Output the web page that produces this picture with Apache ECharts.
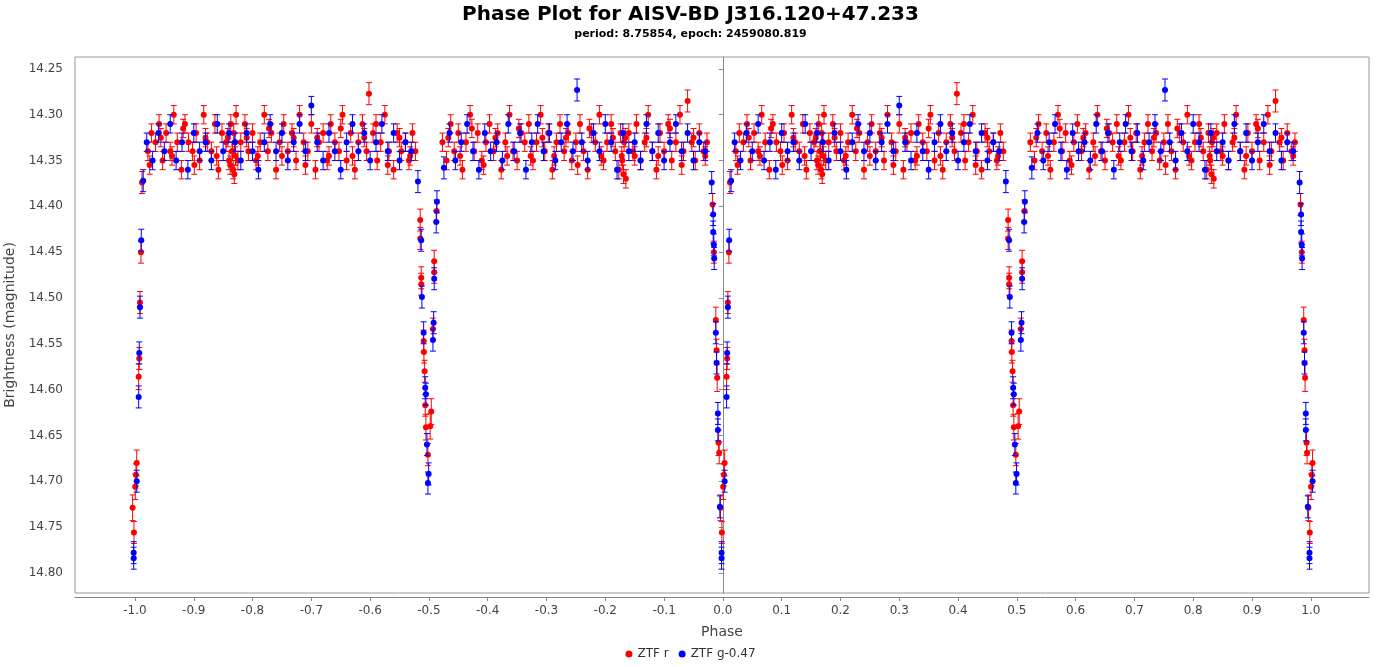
<!DOCTYPE html>
<html>
<head>
<meta charset="utf-8">
<script src="https://cdn.jsdelivr.net/npm/echarts@6/dist/echarts.min.js"></script>
<style>html,body{margin:0;padding:0;background:#fff}#main{width:1381px;height:667px}</style>
</head>
<body>
<div id="main"></div>
<script>
// phase, magnitude, error  (one cycle, phase -0.02 .. 0.98)
var redPoints = [
  [-0.0175,14.398,0.012],[-0.0153,14.450,0.012],[-0.0120,14.524,0.014],[-0.0107,14.557,0.012],[-0.0097,14.587,0.015],
  [-0.0073,14.658,0.014],[-0.0063,14.669,0.012],[-0.0040,14.729,0.014],[-0.0017,14.756,0.012],[0.0005,14.706,0.014],
  [0.0017,14.693,0.012],[0.0030,14.680,0.014],[0.0063,14.586,0.014],[0.0073,14.566,0.012],[0.0085,14.505,0.012],
  [0.0102,14.450,0.012],[0.0120,14.374,0.012],
  [0.022,14.34,0.010],[0.028,14.32,0.010],[0.035,14.33,0.010],[0.041,14.31,0.010],[0.047,14.35,0.010],[0.053,14.32,0.010],
  [0.060,14.34,0.010],[0.066,14.30,0.010],[0.072,14.33,0.010],[0.079,14.36,0.010],[0.085,14.31,0.010],[0.091,14.33,0.010],
  [0.098,14.34,0.010],[0.104,14.32,0.010],[0.110,14.35,0.010],[0.117,14.30,0.010],[0.123,14.33,0.010],[0.130,14.34,0.010],
  [0.136,14.31,0.010],[0.142,14.36,0.010],[0.148,14.32,0.010],[0.155,14.33,0.010],[0.160,14.35,0.010],[0.163,14.31,0.010],
  [0.165,14.34,0.010],[0.167,14.36,0.010],[0.168,14.32,0.010],[0.170,14.33,0.010],[0.172,14.30,0.010],[0.175,14.35,0.010],
  [0.180,14.33,0.010],[0.187,14.31,0.010],[0.193,14.34,0.010],[0.200,14.32,0.010],[0.206,14.35,0.010],[0.213,14.33,0.010],
  [0.220,14.30,0.010],[0.226,14.34,0.010],[0.232,14.32,0.010],[0.240,14.36,0.010],[0.246,14.33,0.010],[0.253,14.31,0.010],
  [0.260,14.34,0.010],[0.267,14.32,0.010],[0.274,14.35,0.010],[0.280,14.30,0.010],[0.287,14.33,0.010],[0.294,14.34,0.010],
  [0.300,14.31,0.010],[0.307,14.36,0.010],[0.313,14.33,0.010],[0.320,14.32,0.010],[0.327,14.35,0.010],[0.333,14.31,0.010],
  [0.340,14.33,0.010],[0.347,14.34,0.010],[0.353,14.30,0.010],[0.360,14.35,0.010],[0.367,14.32,0.010],[0.374,14.36,0.010],
  [0.380,14.33,0.010],[0.387,14.31,0.010],[0.394,14.34,0.010],[0.398,14.277,0.012],[0.405,14.32,0.010],[0.412,14.35,0.010],
  [0.418,14.33,0.010],[0.425,14.30,0.010],[0.432,14.34,0.010],[0.440,14.36,0.010],[0.446,14.32,0.010],[0.453,14.34,0.010],
  [0.460,14.33,0.010],[0.466,14.35,0.010],[0.472,14.32,0.010],[0.477,14.34,0.010],
  [0.025,14.355,0.010],[0.044,14.325,0.010],[0.063,14.345,0.010],[0.082,14.315,0.010],[0.101,14.355,0.010],
  [0.120,14.325,0.010],[0.139,14.345,0.010],[0.158,14.325,0.010],[0.162,14.355,0.010],[0.166,14.34,0.010],
  [0.169,14.365,0.010],[0.171,14.345,0.010],[0.190,14.325,0.010],[0.209,14.345,0.010],[0.228,14.315,0.010],
  [0.250,14.345,0.010],[0.270,14.325,0.010],[0.290,14.355,0.010],[0.310,14.325,0.010],[0.330,14.345,0.010],
  [0.350,14.315,0.010],[0.370,14.345,0.010],[0.390,14.325,0.010],[0.410,14.31,0.010],[0.430,14.355,0.010],
  [0.450,14.325,0.010],[0.468,14.345,0.010],
  [0.4852,14.415,0.012],[0.4852,14.435,0.012],[0.4869,14.478,0.012],[0.4869,14.485,0.012],[0.4910,14.547,0.012],
  [0.4915,14.559,0.012],[0.4927,14.580,0.012],[0.4937,14.617,0.012],[0.4949,14.641,0.014],[0.4983,14.671,0.012],
  [0.5022,14.640,0.014],[0.5040,14.624,0.014],[0.5068,14.534,0.012],[0.5090,14.472,0.012],[0.5090,14.460,0.012],
  [0.5131,14.405,0.012],
  [0.523,14.33,0.010],[0.530,14.35,0.010],[0.537,14.31,0.010],[0.543,14.34,0.010],[0.550,14.32,0.010],[0.557,14.36,0.010],
  [0.563,14.33,0.010],[0.570,14.30,0.010],[0.577,14.34,0.010],[0.583,14.32,0.010],[0.590,14.35,0.010],[0.597,14.33,0.010],
  [0.603,14.31,0.010],[0.610,14.34,0.010],[0.617,14.32,0.010],[0.623,14.36,0.010],[0.630,14.33,0.010],[0.637,14.30,0.010],
  [0.643,14.34,0.010],[0.650,14.35,0.010],[0.657,14.32,0.010],[0.663,14.33,0.010],[0.670,14.31,0.010],[0.677,14.35,0.010],
  [0.683,14.33,0.010],[0.690,14.30,0.010],[0.697,14.34,0.010],[0.703,14.32,0.010],[0.710,14.36,0.010],[0.717,14.33,0.010],
  [0.723,14.31,0.010],[0.730,14.34,0.010],[0.737,14.32,0.010],[0.743,14.35,0.010],[0.750,14.33,0.010],[0.757,14.31,0.010],
  [0.763,14.34,0.010],[0.770,14.36,0.010],[0.777,14.32,0.010],[0.783,14.33,0.010],[0.790,14.30,0.010],[0.797,14.35,0.010],
  [0.803,14.33,0.010],[0.810,14.31,0.010],[0.817,14.34,0.010],[0.823,14.36,0.010],[0.826,14.32,0.010],[0.829,14.35,0.010],
  [0.832,14.33,0.010],[0.835,14.37,0.010],[0.840,14.32,0.010],[0.847,14.34,0.010],[0.853,14.31,0.010],[0.860,14.35,0.010],
  [0.867,14.33,0.010],[0.873,14.30,0.010],[0.880,14.34,0.010],[0.887,14.36,0.010],[0.893,14.32,0.010],[0.900,14.34,0.010],
  [0.907,14.31,0.010],[0.913,14.35,0.010],[0.920,14.33,0.010],[0.927,14.30,0.010],[0.933,14.34,0.010],[0.940,14.285,0.012],
  [0.947,14.33,0.010],[0.953,14.35,0.010],[0.960,14.32,0.010],[0.967,14.34,0.010],[0.973,14.33,0.010],
  [0.533,14.325,0.010],[0.553,14.345,0.010],[0.573,14.315,0.010],[0.593,14.355,0.010],[0.613,14.325,0.010],
  [0.633,14.345,0.010],[0.653,14.315,0.010],[0.673,14.345,0.010],[0.693,14.325,0.010],[0.713,14.345,0.010],
  [0.733,14.325,0.010],[0.753,14.355,0.010],[0.773,14.315,0.010],[0.793,14.345,0.010],[0.813,14.325,0.010],
  [0.828,14.345,0.010],[0.831,14.365,0.010],[0.834,14.325,0.010],[0.850,14.345,0.010],[0.870,14.325,0.010],
  [0.890,14.345,0.010],[0.910,14.315,0.010],[0.930,14.355,0.010],[0.950,14.325,0.010],[0.970,14.345,0.010]
];
var bluePoints = [
  [-0.0190,14.374,0.012],[-0.0165,14.409,0.012],[-0.0165,14.428,0.012],[-0.0153,14.442,0.012],[-0.0148,14.457,0.012],
  [-0.0120,14.538,0.012],[-0.0107,14.571,0.012],[-0.0085,14.626,0.012],[-0.0085,14.644,0.012],[-0.0051,14.728,0.012],
  [-0.0022,14.778,0.012],[-0.0022,14.784,0.012],[0.0030,14.700,0.012],[0.0063,14.608,0.012],[0.0073,14.560,0.012],
  [0.0085,14.510,0.012],[0.0107,14.437,0.012],[0.0140,14.372,0.012],
  [0.02,14.33,0.010],[0.03,14.35,0.010],[0.04,14.32,0.010],[0.05,14.34,0.010],[0.06,14.31,0.010],[0.07,14.35,0.010],
  [0.08,14.33,0.010],[0.09,14.36,0.010],[0.10,14.32,0.010],[0.11,14.34,0.010],[0.12,14.33,0.010],[0.13,14.35,0.010],
  [0.14,14.31,0.010],[0.15,14.34,0.010],[0.16,14.32,0.010],[0.17,14.33,0.010],[0.18,14.35,0.010],[0.19,14.32,0.010],
  [0.20,14.34,0.010],[0.21,14.36,0.010],[0.22,14.33,0.010],[0.23,14.31,0.010],[0.24,14.34,0.010],[0.25,14.32,0.010],
  [0.26,14.35,0.010],[0.27,14.33,0.010],[0.28,14.31,0.010],[0.29,14.34,0.010],[0.30,14.29,0.010],[0.31,14.33,0.010],
  [0.32,14.35,0.010],[0.33,14.32,0.010],[0.34,14.34,0.010],[0.35,14.36,0.010],[0.36,14.33,0.010],[0.37,14.31,0.010],
  [0.38,14.34,0.010],[0.39,14.32,0.010],[0.40,14.35,0.010],[0.41,14.33,0.010],[0.42,14.31,0.010],[0.43,14.34,0.010],
  [0.44,14.32,0.010],[0.45,14.35,0.010],[0.46,14.33,0.010],[0.47,14.34,0.010],
  [0.4813,14.373,0.012],[0.4869,14.437,0.012],[0.4881,14.499,0.012],[0.4910,14.538,0.012],[0.4937,14.598,0.012],
  [0.4949,14.605,0.012],[0.4966,14.660,0.012],[0.4995,14.692,0.012],[0.4983,14.702,0.012],[0.5068,14.546,0.012],
  [0.5080,14.527,0.012],[0.5090,14.479,0.012],[0.5124,14.417,0.012],[0.5136,14.395,0.012],[0.5255,14.358,0.012],
  [0.535,14.32,0.010],[0.545,14.35,0.010],[0.555,14.33,0.010],[0.565,14.31,0.010],[0.575,14.34,0.010],[0.585,14.36,0.010],
  [0.595,14.32,0.010],[0.605,14.34,0.010],[0.615,14.33,0.010],[0.625,14.35,0.010],[0.635,14.31,0.010],[0.645,14.34,0.010],
  [0.655,14.32,0.010],[0.665,14.36,0.010],[0.675,14.33,0.010],[0.685,14.31,0.010],[0.695,14.34,0.010],[0.705,14.32,0.010],
  [0.715,14.35,0.010],[0.725,14.33,0.010],[0.735,14.31,0.010],[0.745,14.34,0.010],[0.752,14.273,0.012],[0.760,14.33,0.010],
  [0.770,14.35,0.010],[0.780,14.32,0.010],[0.790,14.34,0.010],[0.800,14.31,0.010],[0.810,14.33,0.010],[0.820,14.36,0.010],
  [0.830,14.32,0.010],[0.840,14.34,0.010],[0.850,14.33,0.010],[0.860,14.35,0.010],[0.870,14.31,0.010],[0.880,14.34,0.010],
  [0.890,14.32,0.010],[0.900,14.35,0.010],[0.910,14.33,0.010],[0.920,14.31,0.010],[0.930,14.34,0.010],[0.940,14.32,0.010],
  [0.950,14.35,0.010],[0.960,14.33,0.010],[0.970,14.34,0.010]
];
var xTicks = [-1.0,-0.9,-0.8,-0.7,-0.6,-0.5,-0.4,-0.3,-0.2,-0.1,0,0.1,0.2,0.3,0.4,0.5,0.6,0.7,0.8,0.9,1.0];
var yTicks = [14.25,14.30,14.35,14.40,14.45,14.50,14.55,14.60,14.65,14.70,14.75,14.80];

// repeat one cycle over phase -1..1
function unfold(pts) {
    var out = [];
    [-1, 0, 1].forEach(function (k) {
        pts.forEach(function (p) {
            var x = p[0] + k;
            if (x >= -1.005 && x <= 1.005) out.push([x, p[1], p[2]]);
        });
    });
    return out;
}

function errRender(color) {
    return function (params, api) {
        var x = api.value(0), y = api.value(1), e = api.value(2);
        var c = api.coord([x, y]);
        var hi = api.coord([x, y - e]);
        var lo = api.coord([x, y + e]);
        var st = {stroke: color, lineWidth: 1};
        return {
            type: 'group',
            children: [
                {type: 'line', shape: {x1: c[0], y1: hi[1], x2: c[0], y2: lo[1]}, style: st},
                {type: 'line', shape: {x1: c[0] - 3, y1: hi[1], x2: c[0] + 3, y2: hi[1]}, style: st},
                {type: 'line', shape: {x1: c[0] - 3, y1: lo[1], x2: c[0] + 3, y2: lo[1]}, style: st},
                {type: 'circle', shape: {cx: c[0], cy: c[1], r: 3}, style: {fill: color}}
            ]
        };
    };
}

var myChart = echarts.init(document.getElementById('main'));
myChart.setOption({
    animation: false,
    textStyle: {fontFamily: 'DejaVu Sans'},
    title: {
        text: 'Phase Plot for AISV-BD J316.120+47.233',
        subtext: 'period: 8.75854, epoch: 2459080.819',
        left: 'center',
        top: 0,
        itemGap: 4,
        textStyle: {fontSize: 20, fontWeight: 'bold', color: '#000'},
        subtextStyle: {fontSize: 11, fontWeight: 'bold', color: '#000'}
    },
    legend: {
        bottom: 2,
        icon: 'circle',
        itemWidth: 7,
        itemHeight: 7,
        itemGap: 10,
        textStyle: {fontSize: 12, color: '#333'},
        data: [{name: 'ZTF r', itemStyle: {color: '#ff0000'}}, {name: 'ZTF g-0.47', itemStyle: {color: '#0000ff'}}]
    },
    grid: {left: 75, right: 12, top: 57, bottom: 74, outerBoundsMode: 'none', containLabel: false,
        show: true, borderColor: '#999', borderWidth: 1, backgroundColor: '#fff'},
    xAxis: {
        type: 'value',
        min: -1.102,
        max: 1.099,
        name: 'Phase',
        nameLocation: 'middle',
        nameGap: 28,
        nameTextStyle: {fontSize: 14, color: '#444'},
        offset: 4,
        axisLine: {show: true, lineStyle: {color: '#888'}},
        axisTick: {show: true, customValues: xTicks, length: 4, lineStyle: {color: '#888'}},
        axisLabel: {customValues: xTicks, color: '#444', fontSize: 12, formatter: function (v) { return v.toFixed(1); }},
        splitLine: {show: false}
    },
    yAxis: {
        type: 'value',
        inverse: true,
        min: 14.237,
        max: 14.822,
        name: 'Brightness (magnitude)',
        nameLocation: 'middle',
        nameGap: 52,
        nameTextStyle: {fontSize: 14, color: '#444'},
        offset: 4,
        axisLine: {show: true, lineStyle: {color: '#888'}},
        axisTick: {show: true, customValues: yTicks, length: 4, lineStyle: {color: '#888'}},
        axisLabel: {customValues: yTicks, color: '#444', fontSize: 12, formatter: function (v) { return v.toFixed(2); }},
        splitLine: {show: false}
    },
    series: [
        {name: 'ZTF r', type: 'custom', color: '#ff0000', renderItem: errRender('#ff0000'), data: unfold(redPoints), encode: {x: 0, y: 1}},
        {name: 'ZTF g-0.47', type: 'custom', color: '#0000ff', renderItem: errRender('#0000ff'), data: unfold(bluePoints), encode: {x: 0, y: 1}}
    ]
});
</script>
</body>
</html>
